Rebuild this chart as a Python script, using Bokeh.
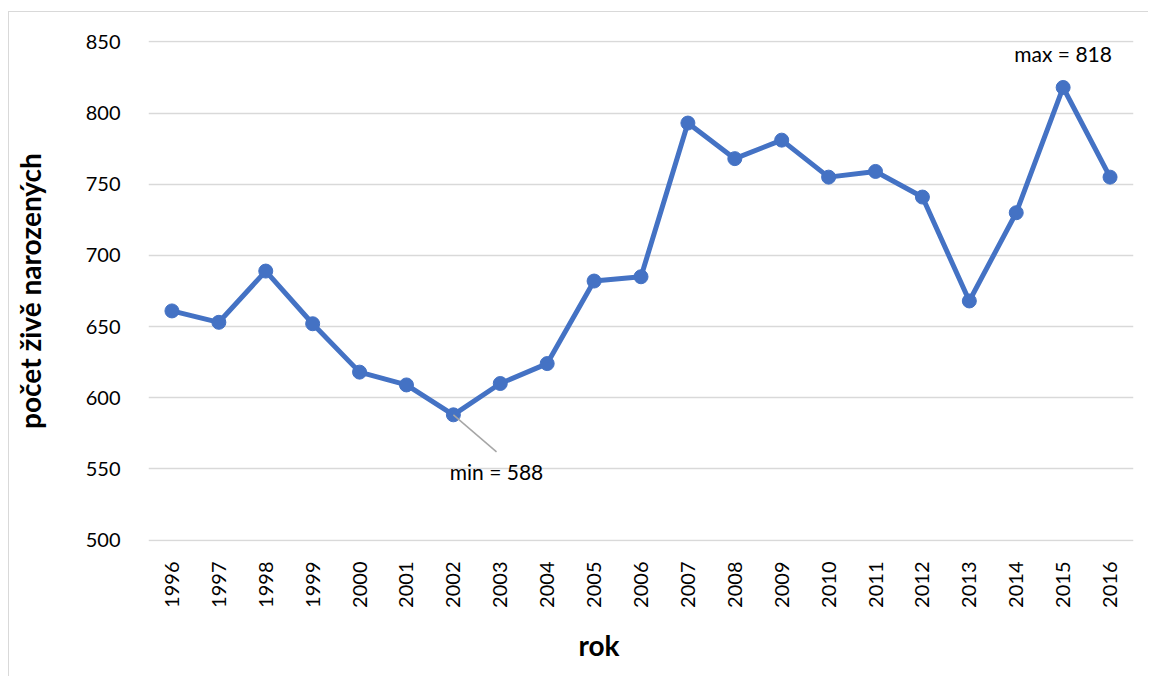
import math
from bokeh.plotting import figure
from bokeh.models import ColumnDataSource, FixedTicker, Range1d, Title
from bokeh.embed import file_html
from bokeh.resources import INLINE
from bokeh.core.properties import value

# Live births per year
years = ["1996", "1997", "1998", "1999", "2000", "2001", "2002", "2003", "2004", "2005",
         "2006", "2007", "2008", "2009", "2010", "2011", "2012", "2013", "2014", "2015", "2016"]
births = [661, 653, 689, 652, 618, 609, 588, 610, 624, 682,
          685, 793, 768, 781, 755, 759, 741, 668, 730, 818, 755]
y_ticks = [500, 550, 600, 650, 700, 750, 800, 850]

FONT = "Lato"
BLUE = "#4472C4"
GRID = "#d9d9d9"

# the figure sits inside a thin grey chart-area border
OFF_X, OFF_Y = 8, 11

idx = list(range(len(years)))
src = ColumnDataSource(dict(x=idx, y=births))

p = figure(width=1149 - OFF_X - 1, height=677 - OFF_Y - 1,
           output_backend="svg", toolbar_location=None,
           x_range=Range1d(-0.5, len(years) - 0.5), y_range=Range1d(499, 851),
           min_border_left=148 - OFF_X - 1, min_border_right=16,
           min_border_top=40 - OFF_Y - 1, min_border_bottom=677 - 540 - 1,
           styles={"margin-left": f"{OFF_X}px", "margin-top": f"{OFF_Y}px",
                   "border-left": f"1px solid {GRID}", "border-top": f"1px solid {GRID}"})
p.outline_line_color = None
p.background_fill_color = "white"
p.border_fill_color = "white"

p.line("x", "y", source=src, line_color=BLUE, line_width=5)
p.scatter("x", "y", source=src, size=14, fill_color=BLUE, line_color=BLUE)

# axes
p.xaxis.ticker = FixedTicker(ticks=idx)
p.xaxis.major_label_overrides = {i: y for i, y in enumerate(years)}
p.xaxis.major_label_orientation = math.pi / 2
p.yaxis.ticker = FixedTicker(ticks=y_ticks)
for ax in (p.xaxis[0], p.yaxis[0]):
    ax.axis_line_color = None
    ax.major_tick_line_color = None
    ax.minor_tick_line_color = None
    ax.major_label_text_font = FONT
    ax.major_label_text_font_size = "20px"
    ax.major_label_text_color = "#000000"
p.xaxis.major_label_standoff = 14
p.yaxis.major_label_standoff = 22

# y-axis title
p.yaxis.axis_label = "počet živě narozených"
p.yaxis.axis_label_text_font = FONT
p.yaxis.axis_label_text_font_size = "28px"
p.yaxis.axis_label_text_font_style = "bold"
p.yaxis.axis_label_text_color = "#000000"
p.yaxis.axis_label_standoff = 36

p.xgrid.grid_line_color = None
p.ygrid.grid_line_color = GRID
p.ygrid.grid_line_width = 1.5

# x-axis title as a side title, shifted along the axis
p.add_layout(Title(text="rok", offset=430, standoff=30, text_font=FONT,
                   text_font_size="28px", text_font_style="bold",
                   text_color="#000000", align="left"), "below")

# min / max annotations
i_min = births.index(min(births))
i_max = births.index(max(births))
p.segment(x0=[i_min], y0=[births[i_min]], x1=[i_min + 0.92], y1=[births[i_min] - 26],
          line_color="#a6a6a6", line_width=1.5)
p.text(x=[i_min + 0.92], y=[births[i_min] - 26], text=[f"min = {births[i_min]}"],
       text_font=value(FONT), text_font_size="21px", text_color="#000000",
       text_align="center", text_baseline="top", y_offset=7)
p.text(x=[i_max], y=[births[i_max]], text=[f"max = {births[i_max]}"],
       text_font=value(FONT), text_font_size="21px", text_color="#000000",
       text_align="center", text_baseline="bottom", y_offset=-21)

open("out.html", "w").write(file_html(p, INLINE))
